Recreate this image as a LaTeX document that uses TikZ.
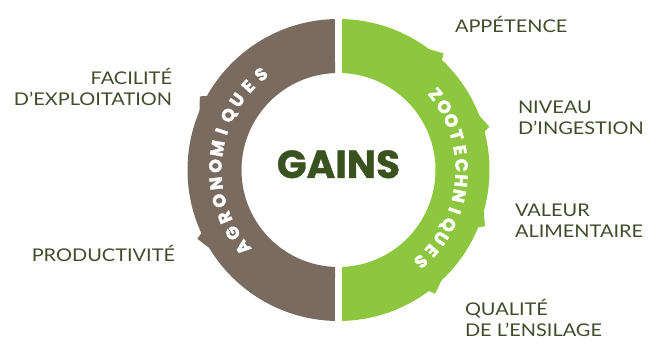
\documentclass[tikz,border=0pt]{standalone}
\usepackage{fontspec}
\usepackage{xcolor}
\usetikzlibrary{calc, positioning}

\newfontfamily\lblfont{Lato}[FakeStretch=1.14]
\newfontfamily\headfont{Poppins}[BoldFeatures={FakeBold=1}]
\newfontfamily\ringfont{Poppins}[BoldFeatures={FakeBold=2.2}]

\definecolor{agrobrown}{HTML}{7A6B60}
\definecolor{zoogreen}{HTML}{8DC63F}
\definecolor{lbltext}{HTML}{3F4D2C}
\definecolor{gainsgreen}{HTML}{3A5220}

\begin{document}
\begin{tikzpicture}[
      x=1pt, y=1pt,
      every node/.style={inner sep=0pt, outer sep=0pt},
      lbl/.style={font=\lblfont\fontsize{17.5}{21.5}\selectfont, text=lbltext},
      lblright/.style={lbl, align=left, anchor=base west},
      lblleft/.style={lbl, align=right, anchor=base east},
      ringletter/.style={font=\ringfont\bfseries\fontsize{17.5}{17.5}\selectfont, text=white, anchor=base}
    ]
    \useasboundingbox (0,0) rectangle (657,345);
    \coordinate (c) at (338.5,175);

    % the two half rings
    \fill[agrobrown] ($(c)+(91.33:151pt)$) arc[start angle=91.33, end angle=268.67, radius=151pt]
        -- ($(c)+(267.93:97pt)$) arc[start angle=267.93, end angle=92.07, radius=97pt] -- cycle;
    \fill[zoogreen] ($(c)+(88.67:151pt)$) arc[start angle=88.67, end angle=-88.67, radius=151pt]
        -- ($(c)+(-87.93:97pt)$) arc[start angle=-87.93, end angle=87.93, radius=97pt] -- cycle;

    % small teeth on the outer edge, one per label
    \foreach \a in {48,16,-21,-52}
        \fill[zoogreen] ($(c)+(\a+6:150pt)$) -- ($(c)+(\a:157pt)$) -- ($(c)+(\a-1.5:150pt)$) -- cycle;
    \foreach \a in {206,152}
        \fill[agrobrown] ($(c)+(\a+6:150pt)$) -- ($(c)+(\a:157pt)$) -- ($(c)+(\a-1.5:150pt)$) -- cycle;

    % curved titles, letter by letter, tops outwards
    \foreach \ch [count=\i] in {Z,O,O,T,E,C,H,N,I,Q,U,E,S} {
        \pgfmathsetmacro\ang{38-(\i-1)*86/12}
        \node[ringletter, rotate=\ang-90] (zoo\i) at ($(c)+(\ang:117pt)$) {\ch};
    }
    \foreach \ch [count=\i] in {A,G,R,O,N,O,M,I,Q,U,E,S} {
        \pgfmathsetmacro\ang{219-(\i-1)*90/11}
        \node[ringletter, rotate=\ang-90] (agro\i) at ($(c)+(\ang:117pt)$) {\ch};
    }

    \node[font=\headfont\bfseries\fontsize{39}{39}\selectfont, text=gainsgreen, anchor=base] (gains) at (338.5,167) {GAINS};

    % labels: the base anchor is on the last line
    \begin{scope}
        \node[lblleft] (facil) at (172,239) {FACILITÉ\\D’EXPLOITATION};
        \node[lblleft] (prod) at (175,83) {PRODUCTIVITÉ};

        \node[lblright] (appet) at (455,312) {APPÉTENCE};
        \node[lblright] (niveau) at (518,210) {NIVEAU\\D’INGESTION};
        \node[lblright] (valeur) at (515,107) {VALEUR\\ALIMENTAIRE};
        \node[lblright] (qualite) at (465,8) {QUALITÉ\\DE L’ENSILAGE};
    \end{scope}
\end{tikzpicture}
\end{document}
